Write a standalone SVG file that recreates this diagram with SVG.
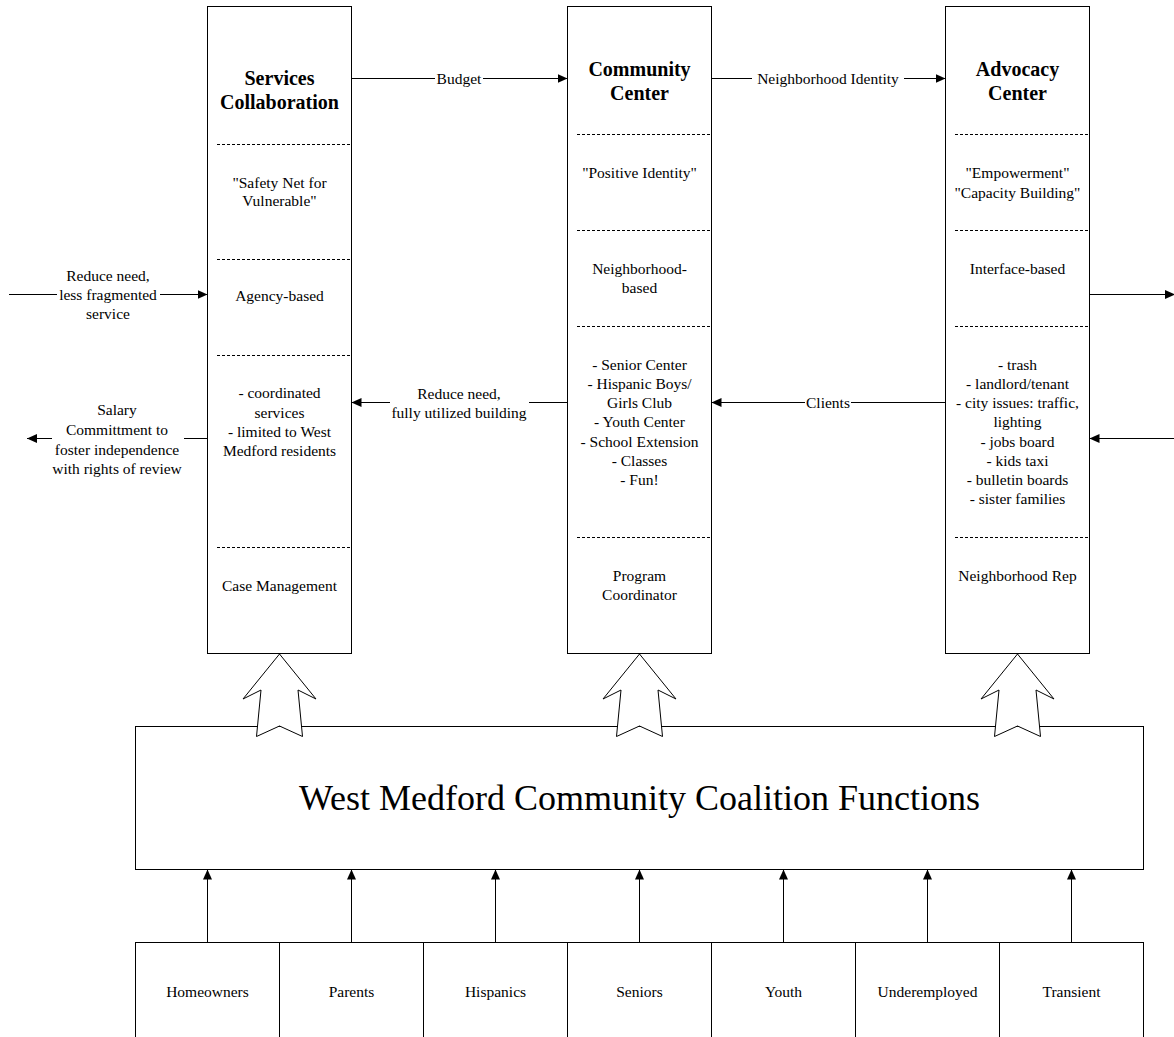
<svg xmlns="http://www.w3.org/2000/svg" width="1174" height="1037" viewBox="0 0 1174 1037">
<style>
  text { font-family: "Liberation Serif", "Times New Roman", serif; fill: #000; text-anchor: middle; dominant-baseline: central; }
  .t { font-size: 15.5px; }
  .h { font-size: 20px; font-weight: bold; }
  .big { font-size: 36px; }
  .box { fill: #fff; stroke: #000; stroke-width: 1; }
  .dash { stroke: #000; stroke-width: 1; stroke-dasharray: 3 2; fill: none; }
  .ln { stroke: #000; stroke-width: 1; fill: none; }
  .arr { stroke: #000; stroke-width: 1; fill: none; marker-end: url(#ah); }
  .blk { fill: #fff; stroke: #000; stroke-width: 1; stroke-linejoin: miter; }
</style>
<defs>
  <marker id="ah" viewBox="0 0 10 9" refX="10" refY="4.5" markerWidth="10" markerHeight="9" markerUnits="userSpaceOnUse" orient="auto">
    <path d="M0,0 L10,4.5 L0,9 z" fill="#000"/>
  </marker>
</defs>
<rect width="1174" height="1037" fill="#fff"/>

<g id="services-collaboration">
  <rect class="box" x="207.5" y="6.5" width="144" height="647"/>
  <text class="h" x="279.5" y="78">Services</text>
  <text class="h" x="279.5" y="102">Collaboration</text>
  <line class="dash" x1="217" y1="144.5" x2="351.5" y2="144.5"/>
  <text class="t" x="279.5" y="182">"Safety Net for</text>
  <text class="t" x="279.5" y="200">Vulnerable"</text>
  <line class="dash" x1="217" y1="259.5" x2="351.5" y2="259.5"/>
  <text class="t" x="279.5" y="295">Agency-based</text>
  <line class="dash" x1="217" y1="355.5" x2="351.5" y2="355.5"/>
  <text class="t" x="279.5" y="392">- coordinated</text>
  <text class="t" x="279.5" y="412">services</text>
  <text class="t" x="279.5" y="431">- limited to West</text>
  <text class="t" x="279.5" y="450">Medford residents</text>
  <line class="dash" x1="217" y1="547.5" x2="351.5" y2="547.5"/>
  <text class="t" x="279.5" y="585">Case Management</text>
</g>

<g id="community-center">
  <rect class="box" x="567.5" y="6.5" width="144" height="647"/>
  <text class="h" x="639.5" y="69">Community</text>
  <text class="h" x="639.5" y="93">Center</text>
  <line class="dash" x1="577" y1="134.5" x2="711.5" y2="134.5"/>
  <text class="t" x="639.5" y="172">"Positive Identity"</text>
  <line class="dash" x1="577" y1="230.5" x2="711.5" y2="230.5"/>
  <text class="t" x="639.5" y="268">Neighborhood-</text>
  <text class="t" x="639.5" y="287">based</text>
  <line class="dash" x1="577" y1="326.5" x2="711.5" y2="326.5"/>
  <text class="t" x="639.5" y="364">- Senior Center</text>
  <text class="t" x="639.5" y="383">- Hispanic Boys/</text>
  <text class="t" x="639.5" y="402">Girls Club</text>
  <text class="t" x="639.5" y="421">- Youth Center</text>
  <text class="t" x="639.5" y="441">- School Extension</text>
  <text class="t" x="639.5" y="460">- Classes</text>
  <text class="t" x="639.5" y="479">- Fun!</text>
  <line class="dash" x1="577" y1="537.5" x2="711.5" y2="537.5"/>
  <text class="t" x="639.5" y="575">Program</text>
  <text class="t" x="639.5" y="594">Coordinator</text>
</g>

<g id="advocacy-center">
  <rect class="box" x="945.5" y="6.5" width="144" height="647"/>
  <text class="h" x="1017.5" y="69">Advocacy</text>
  <text class="h" x="1017.5" y="93">Center</text>
  <line class="dash" x1="955" y1="134.5" x2="1089.5" y2="134.5"/>
  <text class="t" x="1017.5" y="172">"Empowerment"</text>
  <text class="t" x="1017.5" y="192">"Capacity Building"</text>
  <line class="dash" x1="955" y1="230.5" x2="1089.5" y2="230.5"/>
  <text class="t" x="1017.5" y="268">Interface-based</text>
  <line class="dash" x1="955" y1="326.5" x2="1089.5" y2="326.5"/>
  <text class="t" x="1017.5" y="364">- trash</text>
  <text class="t" x="1017.5" y="383">- landlord/tenant</text>
  <text class="t" x="1017.5" y="402">- city issues: traffic,</text>
  <text class="t" x="1017.5" y="421">lighting</text>
  <text class="t" x="1017.5" y="441">- jobs board</text>
  <text class="t" x="1017.5" y="460">- kids taxi</text>
  <text class="t" x="1017.5" y="479">- bulletin boards</text>
  <text class="t" x="1017.5" y="498">- sister families</text>
  <line class="dash" x1="955" y1="537.5" x2="1089.5" y2="537.5"/>
  <text class="t" x="1017.5" y="575">Neighborhood Rep</text>
</g>

<g id="coalition-functions">
  <rect class="box" x="135.5" y="726.5" width="1008" height="143"/>
  <text class="big" x="639.5" y="798">West Medford Community Coalition Functions</text>
</g>

<g id="block-arrows">
  <polygon class="blk" points="279.5,654 316,699 298,690 302.5,736.5 279.5,726 256.5,736.5 261,690 243,699"/>
  <polygon class="blk" points="639.5,654 676,699 658,690 662.5,736.5 639.5,726 616.5,736.5 621,690 603,699"/>
  <polygon class="blk" points="1017.5,654 1054,699 1036,690 1040.5,736.5 1017.5,726 994.5,736.5 999,690 981,699"/>
</g>

<g id="homeowners"><rect class="box" x="135.5" y="942.5" width="144" height="110"/><text class="t" x="207.5" y="991">Homeowners</text></g>
<g id="parents"><rect class="box" x="279.5" y="942.5" width="144" height="110"/><text class="t" x="351.5" y="991">Parents</text></g>
<g id="hispanics"><rect class="box" x="423.5" y="942.5" width="144" height="110"/><text class="t" x="495.5" y="991">Hispanics</text></g>
<g id="seniors"><rect class="box" x="567.5" y="942.5" width="144" height="110"/><text class="t" x="639.5" y="991">Seniors</text></g>
<g id="youth"><rect class="box" x="711.5" y="942.5" width="144" height="110"/><text class="t" x="783.5" y="991">Youth</text></g>
<g id="underemployed"><rect class="box" x="855.5" y="942.5" width="144" height="110"/><text class="t" x="927.5" y="991">Underemployed</text></g>
<g id="transient"><rect class="box" x="999.5" y="942.5" width="144" height="110"/><text class="t" x="1071.5" y="991">Transient</text></g>

<g id="connectors">
  <!-- Budget -->
  <line class="ln" x1="351.5" y1="78.5" x2="435" y2="78.5"/>
  <line class="arr" x1="483" y1="78.5" x2="567.5" y2="78.5"/>
  <text class="t" x="459" y="78">Budget</text>
  <!-- Neighborhood Identity -->
  <line class="ln" x1="711.5" y1="78.5" x2="752" y2="78.5"/>
  <line class="arr" x1="904" y1="78.5" x2="945.5" y2="78.5"/>
  <text class="t" x="828" y="78">Neighborhood Identity</text>
  <!-- Clients -->
  <line class="ln" x1="945.5" y1="402.5" x2="851" y2="402.5"/>
  <line class="arr" x1="805" y1="402.5" x2="711.5" y2="402.5"/>
  <text class="t" x="828" y="402">Clients</text>
  <!-- Reduce need, fully utilized building -->
  <line class="ln" x1="567.5" y1="402.5" x2="529" y2="402.5"/>
  <line class="arr" x1="390" y1="402.5" x2="351.5" y2="402.5"/>
  <text class="t" x="459" y="393">Reduce need,</text>
  <text class="t" x="459" y="412">fully utilized building</text>
  <!-- Left incoming -->
  <line class="ln" x1="9" y1="294.5" x2="57" y2="294.5"/>
  <line class="arr" x1="160" y1="294.5" x2="207.5" y2="294.5"/>
  <text class="t" x="108" y="275">Reduce need,</text>
  <text class="t" x="108" y="294">less fragmented</text>
  <text class="t" x="108" y="313">service</text>
  <!-- Left outgoing -->
  <line class="ln" x1="207.5" y1="438.5" x2="184" y2="438.5"/>
  <line class="arr" x1="52" y1="438.5" x2="27" y2="438.5"/>
  <text class="t" x="117" y="409">Salary</text>
  <text class="t" x="117" y="429">Committment to</text>
  <text class="t" x="117" y="449">foster independence</text>
  <text class="t" x="117" y="468">with rights of review</text>
  <!-- Right side -->
  <line class="arr" x1="1089.5" y1="294.5" x2="1175" y2="294.5"/>
  <line class="arr" x1="1174" y1="438.5" x2="1089.5" y2="438.5"/>
  <!-- Bottom arrows -->
  <line class="arr" x1="207.5" y1="942.5" x2="207.5" y2="869.5"/>
  <line class="arr" x1="351.5" y1="942.5" x2="351.5" y2="869.5"/>
  <line class="arr" x1="495.5" y1="942.5" x2="495.5" y2="869.5"/>
  <line class="arr" x1="639.5" y1="942.5" x2="639.5" y2="869.5"/>
  <line class="arr" x1="783.5" y1="942.5" x2="783.5" y2="869.5"/>
  <line class="arr" x1="927.5" y1="942.5" x2="927.5" y2="869.5"/>
  <line class="arr" x1="1071.5" y1="942.5" x2="1071.5" y2="869.5"/>
</g>
</svg>
